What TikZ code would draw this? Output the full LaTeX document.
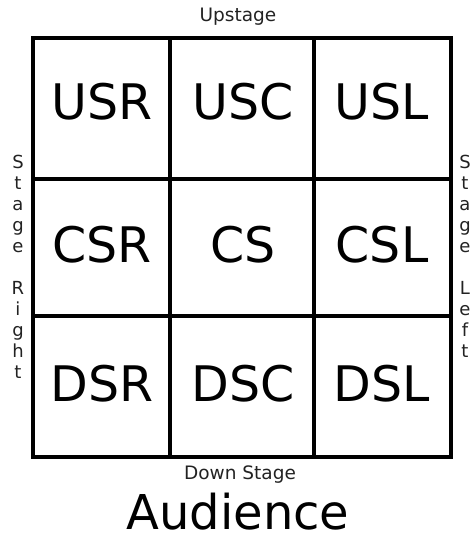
\documentclass[tikz,border=0pt]{standalone}
\usepackage{fontspec}
\setmainfont{DejaVu Sans}
\definecolor{labelgray}{HTML}{222222}
\begin{document}
\begin{tikzpicture}[x=1pt,y=-1pt,
  gridline/.style={line width=3.5pt,line cap=rect},
  cell/.style={inner sep=0pt,font=\fontsize{49}{49}\selectfont},
  small/.style={inner sep=0pt,text=labelgray,font=\fontsize{18.5}{20}\selectfont},
  side/.style={inner sep=0pt,text=labelgray,align=center,anchor=north,font=\fontsize{18}{21}\selectfont}]
\useasboundingbox (0,0) rectangle (475,541);
\coordinate (tl) at (33,38);
\coordinate (br) at (451,457);
\draw[gridline] (tl) rectangle (br);
\coordinate (v1t) at (170,38); \coordinate (v1b) at (170,457);
\coordinate (v2t) at (314,38); \coordinate (v2b) at (314,457);
\coordinate (h1l) at (33,179); \coordinate (h1r) at (451,179);
\coordinate (h2l) at (33,316); \coordinate (h2r) at (451,316);
\draw[gridline] (v1t) -- (v1b);
\draw[gridline] (v2t) -- (v2b);
\draw[gridline] (h1l) -- (h1r);
\draw[gridline] (h2l) -- (h2r);
\node[cell] (usr) at (102,102) {USR};
\node[cell] (usc) at (243,102) {USC};
\node[cell] (usl) at (382,102) {USL};
\node[cell] (csr) at (102,245) {CSR};
\node[cell] (cs)  at (243,245) {CS};
\node[cell] (csl) at (382,245) {CSL};
\node[cell] (dsr) at (102,384) {DSR};
\node[cell] (dsc) at (243,384) {DSC};
\node[cell] (dsl) at (382,384) {DSL};
\node[small] (up) at (238,17) {Upstage};
\node[small] (down) at (240,475) {Down Stage};
\node[inner sep=0pt,text depth=0pt,anchor=base,font=\fontsize{48}{48}\selectfont] (aud) at (238,529) {Audience};
\node[side] (sr) at (18,155) {S\\t\\a\\g\\e\\[21pt]R\\i\\g\\h\\t};
\node[side] (sl) at (465,155) {S\\t\\a\\g\\e\\[21pt]L\\e\\f\\t};
\end{tikzpicture}
\end{document}
